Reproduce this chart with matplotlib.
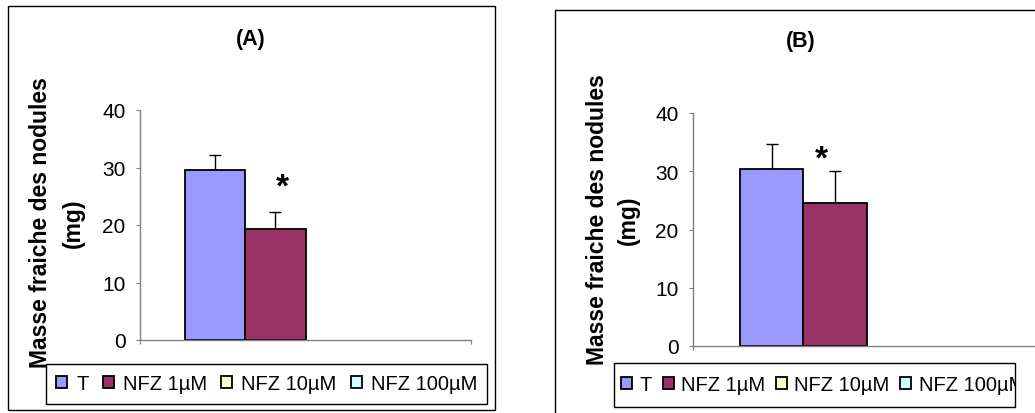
import numpy as np
import matplotlib
matplotlib.use("Agg")
import matplotlib.pyplot as plt
from matplotlib.patches import Rectangle

plt.rcParams['font.family'] = ['Liberation Sans', 'DejaVu Sans']

# données
series = ["T", "NFZ 1µM", "NFZ 10µM", "NFZ 100µM"]
colors = ["#9999FF", "#993366", "#FFFFCC", "#CCFFFF"]
panels = ["(A)", "(B)"]
means_A = [29.6, 19.3, np.nan, np.nan]
err_A = [2.6, 3.0, np.nan, np.nan]
means_B = [30.4, 24.5, np.nan, np.nan]
err_B = [4.3, 5.5, np.nan, np.nan]
signif_A = [False, True, False, False]
signif_B = [False, True, False, False]

W, H = 1035, 414
fig = plt.figure(figsize=(W / 100, H / 100), dpi=100)


def px(x0, y0, x1, y1):
    # boîte en pixels (origine en haut à gauche) -> fraction de figure
    return [x0 / W, 1 - y1 / H, (x1 - x0) / W, (y1 - y0) / H]


def draw_panel(axbox, frame, title, vals, errs, signif, star_dx, star_dy,
               title_xy, lab_x, lab_y, leg_box, colspace, textpad, own_frame):
    fig.add_artist(Rectangle((frame[0] / W, 1 - frame[3] / H),
                             (frame[2] - frame[0]) / W, (frame[3] - frame[1]) / H,
                             transform=fig.transFigure, fill=False,
                             edgecolor="black", linewidth=1.0))
    ax = fig.add_axes(px(*axbox))
    w = 1 / 5.5
    handles = []
    for i, (name, c) in enumerate(zip(series, colors)):
        xpos = (i - 1.5) * w
        b = ax.bar(xpos, vals[i], width=w, color=c, edgecolor="black",
                   linewidth=1.3, label=name, zorder=2)
        handles.append(b)
        if not np.isnan(vals[i]):
            ax.errorbar(xpos, vals[i], yerr=[[0], [errs[i]]], fmt="none",
                        ecolor="black", elinewidth=1.0, capsize=4.5,
                        capthick=1.0, zorder=1)
        if signif[i]:
            ax.annotate("*", (xpos, vals[i] + errs[i]), xytext=(star_dx, star_dy),
                        textcoords="offset points", ha="center", va="baseline",
                        fontsize=24, fontweight="bold")
    ax.set_xlim(-0.5, 0.5)
    ax.set_ylim(0, 40)
    ax.set_yticks([0, 10, 20, 30, 40])
    ax.set_xticks([-0.5, 0.5])
    ax.set_xticklabels([])
    for s in ["top", "right"]:
        ax.spines[s].set_visible(False)
    for s in ["left", "bottom"]:
        ax.spines[s].set_color("#808080")
        ax.spines[s].set_linewidth(1.0)
    ax.tick_params(axis="y", direction="out", length=3, color="#808080",
                   labelsize=15, pad=7.5)
    ax.tick_params(axis="x", direction="out", length=3, color="#808080")
    ax.patch.set_alpha(0)

    fig.text(title_xy[0] / W, 1 - title_xy[1] / H, title, ha="center",
             va="center", fontsize=15.5, fontweight="bold")
    fig.text(lab_x[0] / W, 1 - lab_y / H, "Masse fraiche des nodules",
             rotation=90, ha="center", va="center", fontsize=16.5,
             fontweight="bold")
    fig.text(lab_x[1] / W, 1 - lab_y / H, "(mg)", rotation=90, ha="center",
             va="center", fontsize=16.5, fontweight="bold")

    lb = px(*leg_box)
    leg = fig.legend(handles=handles, loc="center left", ncol=4,
                     bbox_to_anchor=(lb[0], lb[1] + lb[3] / 2),
                     bbox_transform=fig.transFigure, fontsize=14.5,
                     frameon=not own_frame, fancybox=False, framealpha=1,
                     edgecolor="black", handlelength=0.55, handleheight=0.55,
                     handletextpad=textpad, columnspacing=colspace,
                     borderpad=0.5 if not own_frame else 0.35, borderaxespad=0)
    leg.get_frame().set_linewidth(1.0)
    if own_frame:
        # cadre fixe : le dernier libellé est coupé au bord du cadre
        box = Rectangle((lb[0], lb[1]), lb[2], lb[3], transform=fig.transFigure,
                        facecolor="white", edgecolor="black", linewidth=1.0,
                        zorder=4)
        fig.add_artist(box)
        for t in leg.get_texts():
            t.set_clip_path(box)
    return ax, leg


draw_panel((140, 111, 471, 341), (8, 7, 495, 411), panels[0], means_A, err_A,
           signif_A, 5.4, 11.8, (251, 39), (41, 73), 223, (46, 363, 488, 407),
           0.7, 0.45, False)
ax_b, leg_b = draw_panel((693, 114, 1040, 347), (555, 11, 1100, 460), panels[1],
                         means_B, err_B, signif_B, -9.4, 3, (801, 42), (598, 628),
                         220, (614, 364, 1015, 408), 0.55, 0.35, True)

fig.savefig("out.png", dpi=100)
